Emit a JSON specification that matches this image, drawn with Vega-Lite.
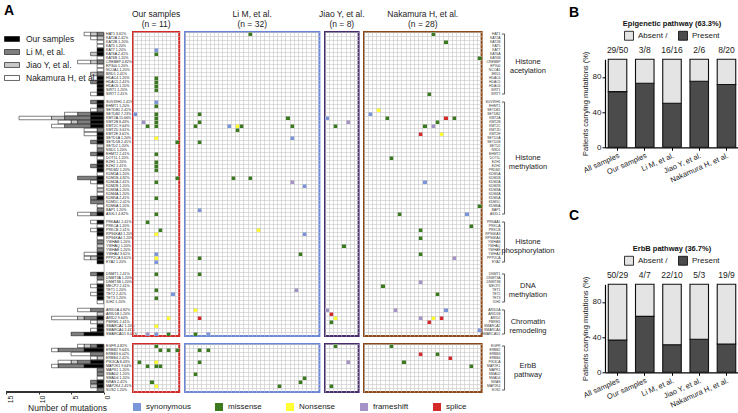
{
"$schema":"https://vega.github.io/schema/vega-lite/v6.json",
"background":"white",
"padding":{"left":4,"top":3,"right":0,"bottom":0},
"config":{"font":"Liberation Sans","view":{"stroke":null},"title":{"fontSize":8.5,"fontWeight":"normal","lineHeight":10,"offset":4,"color":"#222"},"legend":{"layout":{"top":{"anchor":"middle"}}}},
"datasets":{
"genes":[
{"g":"HAT1","k":"HAT1 3.61%","b":"E","s1":0,"s2":1,"s3":1,"s4":1},
{"g":"KAT2A","k":"KAT2A 2.41%","b":"E","s1":0,"s2":0,"s3":1,"s4":1},
{"g":"KAT2B","k":"KAT2B 1.20%","b":"E","s1":0,"s2":0,"s3":0,"s4":1},
{"g":"KAT5","k":"KAT5 1.20%","b":"E","s1":0,"s2":0,"s3":0,"s4":1},
{"g":"KAT7","k":"KAT7 1.20%","b":"E","s1":1,"s2":0,"s3":0,"s4":0},
{"g":"KAT6A","k":"KAT6A 2.41%","b":"E","s1":1,"s2":0,"s3":1,"s4":0},
{"g":"KAT6B","k":"KAT6B 1.20%","b":"E","s1":0,"s2":0,"s3":0,"s4":1},
{"g":"CREBBP","k":"CREBBP 4.82%","b":"E","s1":0,"s2":1,"s3":1,"s4":2},
{"g":"EP300","k":"EP300 1.20%","b":"E","s1":0,"s2":0,"s3":0,"s4":1},
{"g":"NCOA1","k":"NCOA1 1.20%","b":"E","s1":0,"s2":0,"s3":0,"s4":1},
{"g":"BRD1","k":"BRD1 2.41%","b":"E","s1":0,"s2":1,"s3":1,"s4":0},
{"g":"HDAC4","k":"HDAC4 1.20%","b":"E","s1":1,"s2":0,"s3":0,"s4":0},
{"g":"HDAC5","k":"HDAC5 2.41%","b":"E","s1":1,"s2":1,"s3":0,"s4":0},
{"g":"HDAC6","k":"HDAC6 1.20%","b":"E","s1":1,"s2":0,"s3":0,"s4":0},
{"g":"SIRT1","k":"SIRT1 1.20%","b":"E","s1":1,"s2":0,"s3":0,"s4":0},
{"g":"SIRT7","k":"SIRT7 2.41%","b":"E","s1":1,"s2":0,"s3":0,"s4":1},
{"g":"SUV39H1","k":"SUV39H1 2.41%","b":"E","s1":1,"s2":1,"s3":0,"s4":0},
{"g":"EHMT1","k":"EHMT1 1.20%","b":"E","s1":1,"s2":0,"s3":0,"s4":0},
{"g":"SETDB1","k":"SETDB1 2.41%","b":"E","s1":0,"s2":1,"s3":0,"s4":1},
{"g":"SETDB2","k":"SETDB2 7.23%","b":"E","s1":2,"s2":2,"s3":0,"s4":2},
{"g":"KMT2A","k":"KMT2A 15.66%","b":"E","s1":2,"s2":4,"s3":2,"s4":5},
{"g":"KMT2B","k":"KMT2B 8.43%","b":"E","s1":2,"s2":2,"s3":1,"s4":2},
{"g":"KMT2C","k":"KMT2C 9.64%","b":"E","s1":2,"s2":4,"s3":0,"s4":2},
{"g":"KMT2D","k":"KMT2D 3.61%","b":"E","s1":0,"s2":1,"s3":0,"s4":2},
{"g":"KMT2E","k":"KMT2E 3.61%","b":"E","s1":1,"s2":0,"s3":0,"s4":2},
{"g":"SETD1A","k":"SETD1A 1.20%","b":"E","s1":1,"s2":0,"s3":0,"s4":0},
{"g":"SETD1B","k":"SETD1B 2.41%","b":"E","s1":1,"s2":1,"s3":0,"s4":0},
{"g":"SETD2","k":"SETD2 1.20%","b":"E","s1":0,"s2":0,"s3":1,"s4":0},
{"g":"NSD1","k":"NSD1 1.20%","b":"E","s1":0,"s2":1,"s3":0,"s4":0},
{"g":"EHMT2","k":"EHMT2 2.41%","b":"E","s1":1,"s2":1,"s3":0,"s4":0},
{"g":"DOT1L","k":"DOT1L 1.20%","b":"E","s1":0,"s2":0,"s3":0,"s4":1},
{"g":"EZH1","k":"EZH1 1.20%","b":"E","s1":1,"s2":0,"s3":0,"s4":0},
{"g":"EZH2","k":"EZH2 2.41%","b":"E","s1":1,"s2":1,"s3":0,"s4":0},
{"g":"PRDM2","k":"PRDM2 1.20%","b":"E","s1":1,"s2":0,"s3":0,"s4":0},
{"g":"KDM1A","k":"KDM1A 1.20%","b":"E","s1":0,"s2":0,"s3":0,"s4":1},
{"g":"KDM1B","k":"KDM1B 4.82%","b":"E","s1":1,"s2":3,"s3":0,"s4":0},
{"g":"KDM2A","k":"KDM2A 2.41%","b":"E","s1":1,"s2":0,"s3":0,"s4":1},
{"g":"KDM2B","k":"KDM2B 1.20%","b":"E","s1":0,"s2":0,"s3":0,"s4":1},
{"g":"KDM3A","k":"KDM3A 1.20%","b":"E","s1":0,"s2":0,"s3":1,"s4":0},
{"g":"KDM4A","k":"KDM4A 1.20%","b":"E","s1":0,"s2":0,"s3":0,"s4":1},
{"g":"KDM5A","k":"KDM5A 2.41%","b":"E","s1":1,"s2":1,"s3":0,"s4":0},
{"g":"KDM5C","k":"KDM5C 2.41%","b":"E","s1":0,"s2":2,"s3":0,"s4":0},
{"g":"KDM6A","k":"KDM6A 1.20%","b":"E","s1":0,"s2":0,"s3":0,"s4":1},
{"g":"BAP1","k":"BAP1 1.20%","b":"E","s1":0,"s2":1,"s3":0,"s4":0},
{"g":"ASXL1","k":"ASXL1 4.82%","b":"E","s1":1,"s2":1,"s3":0,"s4":2},
{"g":"PRKAA1","k":"PRKAA1 2.41%","b":"E","s1":1,"s2":0,"s3":0,"s4":1},
{"g":"PRKCA","k":"PRKCA 1.20%","b":"E","s1":0,"s2":0,"s3":0,"s4":1},
{"g":"PRKCB","k":"PRKCB 2.41%","b":"E","s1":1,"s2":0,"s3":0,"s4":1},
{"g":"RPS6KA3","k":"RPS6KA3 1.20%","b":"E","s1":1,"s2":0,"s3":0,"s4":0},
{"g":"RPS6KA4","k":"RPS6KA4 1.20%","b":"E","s1":0,"s2":0,"s3":0,"s4":1},
{"g":"YWHAB","k":"YWHAB 1.20%","b":"E","s1":0,"s2":1,"s3":0,"s4":0},
{"g":"YWHAQ","k":"YWHAQ 1.20%","b":"E","s1":0,"s2":0,"s3":1,"s4":0},
{"g":"YWHAE","k":"YWHAE 1.20%","b":"E","s1":0,"s2":1,"s3":0,"s4":0},
{"g":"YWHAZ","k":"YWHAZ 3.61%","b":"E","s1":1,"s2":0,"s3":0,"s4":2},
{"g":"PPP2CA","k":"PPP2CA 3.61%","b":"E","s1":1,"s2":0,"s3":1,"s4":1},
{"g":"EYA2","k":"EYA2 1.20%","b":"E","s1":1,"s2":0,"s3":0,"s4":0},
{"g":"DNMT1","k":"DNMT1 2.41%","b":"E","s1":1,"s2":1,"s3":0,"s4":0},
{"g":"DNMT3A","k":"DNMT3A 1.20%","b":"E","s1":0,"s2":1,"s3":0,"s4":0},
{"g":"DNMT3B","k":"DNMT3B 1.20%","b":"E","s1":0,"s2":0,"s3":0,"s4":1},
{"g":"MECP2","k":"MECP2 2.41%","b":"E","s1":1,"s2":0,"s3":0,"s4":1},
{"g":"TET1","k":"TET1 1.20%","b":"E","s1":1,"s2":0,"s3":0,"s4":0},
{"g":"TET2","k":"TET2 2.41%","b":"E","s1":1,"s2":0,"s3":0,"s4":1},
{"g":"TET3","k":"TET3 1.20%","b":"E","s1":1,"s2":0,"s3":0,"s4":0},
{"g":"IDH2","k":"IDH2 1.20%","b":"E","s1":0,"s2":0,"s3":0,"s4":1},
{"g":"ARID1A","k":"ARID1A 4.82%","b":"E","s1":0,"s2":2,"s3":0,"s4":2},
{"g":"ARID1B","k":"ARID1B 1.20%","b":"E","s1":0,"s2":0,"s3":1,"s4":0},
{"g":"ARID2","k":"ARID2 9.64%","b":"E","s1":1,"s2":2,"s3":1,"s4":4},
{"g":"PBRM1","k":"PBRM1 2.41%","b":"E","s1":0,"s2":0,"s3":1,"s4":1},
{"g":"SMARCA2","k":"SMARCA2 1.20%","b":"E","s1":1,"s2":0,"s3":0,"s4":0},
{"g":"SMARCA4","k":"SMARCA4 2.41%","b":"E","s1":1,"s2":0,"s3":0,"s4":1},
{"g":"SMARCAD1","k":"SMARCAD1 6.02%","b":"E","s1":3,"s2":2,"s3":0,"s4":0},
{"g":"EGFR","k":"EGFR 4.82%","b":"B","s1":1,"s2":1,"s3":1,"s4":1},
{"g":"ERBB2","k":"ERBB2 9.64%","b":"B","s1":3,"s2":4,"s3":0,"s4":1},
{"g":"ERBB3","k":"ERBB3 6.02%","b":"B","s1":0,"s2":2,"s3":0,"s4":3},
{"g":"ERBB4","k":"ERBB4 2.41%","b":"B","s1":0,"s2":0,"s3":1,"s4":1},
{"g":"PIK3CA","k":"PIK3CA 8.43%","b":"B","s1":2,"s2":2,"s3":1,"s4":2},
{"g":"MAP2K1","k":"MAP2K1 9.64%","b":"B","s1":3,"s2":4,"s3":0,"s4":1},
{"g":"MAPK1","k":"MAPK1 1.20%","b":"B","s1":0,"s2":1,"s3":0,"s4":0},
{"g":"SMAD2","k":"SMAD2 1.20%","b":"B","s1":0,"s2":1,"s3":0,"s4":0},
{"g":"SMAD4","k":"SMAD4 1.20%","b":"B","s1":0,"s2":0,"s3":0,"s4":1},
{"g":"NRAS","k":"NRAS 2.41%","b":"B","s1":1,"s2":1,"s3":0,"s4":0},
{"g":"MAP2K4","k":"MAP2K4 2.41%","b":"B","s1":1,"s2":0,"s3":1,"s4":0},
{"g":"SOS2","k":"SOS2 1.20%","b":"B","s1":0,"s2":1,"s3":0,"s4":0}
],
"muts":[
{"s":"o","b":"E","c":5,"g":"KAT7","t":"synonymous"},
{"s":"o","b":"E","c":5,"g":"KAT6A","t":"missense"},
{"s":"o","b":"E","c":5,"g":"HDAC4","t":"missense"},
{"s":"o","b":"E","c":5,"g":"HDAC5","t":"missense"},
{"s":"o","b":"E","c":5,"g":"HDAC6","t":"missense"},
{"s":"o","b":"E","c":5,"g":"SIRT1","t":"missense"},
{"s":"o","b":"E","c":5,"g":"SUV39H1","t":"synonymous"},
{"s":"o","b":"E","c":5,"g":"EHMT1","t":"missense"},
{"s":"o","b":"E","c":0,"g":"SETDB2","t":"synonymous"},
{"s":"o","b":"E","c":5,"g":"SETDB2","t":"missense"},
{"s":"o","b":"E","c":5,"g":"KMT2A","t":"missense"},
{"s":"o","b":"E","c":5,"g":"KMT2B","t":"missense"},
{"s":"o","b":"E","c":2,"g":"KMT2B","t":"frameshift"},
{"s":"o","b":"E","c":5,"g":"KMT2C","t":"missense"},
{"s":"o","b":"E","c":3,"g":"KMT2C","t":"missense"},
{"s":"o","b":"E","c":5,"g":"SETD1A","t":"Nonsense"},
{"s":"o","b":"E","c":10,"g":"SETD1B","t":"missense"},
{"s":"o","b":"E","c":5,"g":"EHMT2","t":"missense"},
{"s":"o","b":"E","c":5,"g":"EZH1","t":"missense"},
{"s":"o","b":"E","c":5,"g":"EZH2","t":"missense"},
{"s":"o","b":"E","c":5,"g":"PRDM2","t":"missense"},
{"s":"o","b":"E","c":10,"g":"KDM1B","t":"missense"},
{"s":"o","b":"E","c":5,"g":"KDM2A","t":"missense"},
{"s":"o","b":"E","c":5,"g":"KDM5A","t":"missense"},
{"s":"o","b":"E","c":5,"g":"ASXL1","t":"missense"},
{"s":"o","b":"E","c":3,"g":"PRKAA1","t":"missense"},
{"s":"o","b":"E","c":6,"g":"PRKCB","t":"missense"},
{"s":"o","b":"E","c":5,"g":"RPS6KA3","t":"Nonsense"},
{"s":"o","b":"E","c":5,"g":"YWHAZ","t":"synonymous"},
{"s":"o","b":"E","c":5,"g":"PPP2CA","t":"Nonsense"},
{"s":"o","b":"E","c":5,"g":"EYA2","t":"synonymous"},
{"s":"o","b":"E","c":5,"g":"DNMT1","t":"missense"},
{"s":"o","b":"E","c":5,"g":"TET1","t":"missense"},
{"s":"o","b":"E","c":9,"g":"TET2","t":"synonymous"},
{"s":"o","b":"E","c":5,"g":"TET3","t":"missense"},
{"s":"o","b":"E","c":8,"g":"ARID2","t":"Nonsense"},
{"s":"o","b":"E","c":5,"g":"SMARCA2","t":"Nonsense"},
{"s":"o","b":"E","c":3,"g":"SMARCAD1","t":"frameshift"},
{"s":"o","b":"E","c":5,"g":"SMARCAD1","t":"synonymous"},
{"s":"o","b":"E","c":8,"g":"SMARCAD1","t":"missense"},
{"s":"o","b":"B","c":5,"g":"EGFR","t":"missense"},
{"s":"o","b":"B","c":6,"g":"ERBB2","t":"missense"},
{"s":"o","b":"B","c":8,"g":"ERBB2","t":"missense"},
{"s":"o","b":"B","c":10,"g":"ERBB2","t":"missense"},
{"s":"o","b":"B","c":1,"g":"PIK3CA","t":"missense"},
{"s":"o","b":"B","c":5,"g":"PIK3CA","t":"Nonsense"},
{"s":"o","b":"B","c":3,"g":"MAP2K1","t":"missense"},
{"s":"o","b":"B","c":5,"g":"MAP2K1","t":"missense"},
{"s":"o","b":"B","c":6,"g":"MAP2K1","t":"missense"},
{"s":"o","b":"B","c":4,"g":"NRAS","t":"missense"},
{"s":"o","b":"B","c":5,"g":"MAP2K4","t":"Nonsense"},
{"s":"l","b":"E","c":15,"g":"HAT1","t":"missense"},
{"s":"l","b":"E","c":3,"g":"SETDB2","t":"missense"},
{"s":"l","b":"E","c":24,"g":"KMT2A","t":"missense"},
{"s":"l","b":"E","c":3,"g":"KMT2B","t":"missense"},
{"s":"l","b":"E","c":2,"g":"KMT2C","t":"missense"},
{"s":"l","b":"E","c":10,"g":"KMT2C","t":"synonymous"},
{"s":"l","b":"E","c":12,"g":"KMT2C","t":"Nonsense"},
{"s":"l","b":"E","c":13,"g":"KMT2C","t":"missense"},
{"s":"l","b":"E","c":25,"g":"KMT2C","t":"missense"},
{"s":"l","b":"E","c":12,"g":"KMT2D","t":"missense"},
{"s":"l","b":"E","c":25,"g":"SETD1A","t":"synonymous"},
{"s":"l","b":"E","c":3,"g":"SETD1B","t":"missense"},
{"s":"l","b":"E","c":11,"g":"KDM1B","t":"missense"},
{"s":"l","b":"E","c":15,"g":"KDM1B","t":"missense"},
{"s":"l","b":"E","c":25,"g":"KDM2A","t":"frameshift"},
{"s":"l","b":"E","c":28,"g":"KDM2B","t":"synonymous"},
{"s":"l","b":"E","c":3,"g":"BAP1","t":"synonymous"},
{"s":"l","b":"E","c":17,"g":"PRKCB","t":"Nonsense"},
{"s":"l","b":"E","c":28,"g":"RPS6KA3","t":"synonymous"},
{"s":"l","b":"E","c":27,"g":"YWHAZ","t":"missense"},
{"s":"l","b":"E","c":3,"g":"PPP2CA","t":"missense"},
{"s":"l","b":"E","c":3,"g":"DNMT1","t":"missense"},
{"s":"l","b":"E","c":26,"g":"TET1","t":"frameshift"},
{"s":"l","b":"E","c":2,"g":"ARID1A","t":"Nonsense"},
{"s":"l","b":"E","c":3,"g":"ARID2","t":"splice"},
{"s":"l","b":"E","c":2,"g":"SMARCAD1","t":"missense"},
{"s":"l","b":"E","c":5,"g":"SMARCAD1","t":"synonymous"},
{"s":"l","b":"B","c":3,"g":"ERBB2","t":"missense"},
{"s":"l","b":"B","c":5,"g":"ERBB2","t":"missense"},
{"s":"l","b":"B","c":3,"g":"PIK3CA","t":"missense"},
{"s":"l","b":"B","c":2,"g":"SMAD2","t":"missense"},
{"s":"l","b":"B","c":28,"g":"SMAD4","t":"missense"},
{"s":"l","b":"B","c":27,"g":"NRAS","t":"missense"},
{"s":"l","b":"B","c":22,"g":"MAP2K4","t":"missense"},
{"s":"j","b":"E","c":0,"g":"KMT2A","t":"synonymous"},
{"s":"j","b":"E","c":5,"g":"KMT2B","t":"frameshift"},
{"s":"j","b":"E","c":2,"g":"KMT2C","t":"missense"},
{"s":"j","b":"E","c":4,"g":"YWHAQ","t":"missense"},
{"s":"j","b":"E","c":0,"g":"ARID1A","t":"frameshift"},
{"s":"j","b":"E","c":1,"g":"ARID1B","t":"splice"},
{"s":"j","b":"E","c":2,"g":"ARID2","t":"Nonsense"},
{"s":"j","b":"E","c":1,"g":"PBRM1","t":"missense"},
{"s":"j","b":"B","c":2,"g":"EGFR","t":"missense"},
{"s":"j","b":"B","c":5,"g":"PIK3CA","t":"frameshift"},
{"s":"j","b":"B","c":1,"g":"MAP2K4","t":"missense"},
{"s":"n","b":"E","c":16,"g":"HAT1","t":"missense"},
{"s":"n","b":"E","c":19,"g":"KAT2B","t":"missense"},
{"s":"n","b":"E","c":27,"g":"KAT6B","t":"missense"},
{"s":"n","b":"E","c":15,"g":"SIRT7","t":"missense"},
{"s":"n","b":"E","c":3,"g":"SETDB1","t":"Nonsense"},
{"s":"n","b":"E","c":1,"g":"SETDB2","t":"synonymous"},
{"s":"n","b":"E","c":5,"g":"KMT2A","t":"missense"},
{"s":"n","b":"E","c":19,"g":"KMT2A","t":"splice"},
{"s":"n","b":"E","c":21,"g":"KMT2A","t":"missense"},
{"s":"n","b":"E","c":17,"g":"KMT2B","t":"missense"},
{"s":"n","b":"E","c":14,"g":"KMT2C","t":"missense"},
{"s":"n","b":"E","c":16,"g":"KMT2C","t":"frameshift"},
{"s":"n","b":"E","c":13,"g":"KMT2E","t":"splice"},
{"s":"n","b":"E","c":18,"g":"KMT2E","t":"Nonsense"},
{"s":"n","b":"E","c":6,"g":"DOT1L","t":"missense"},
{"s":"n","b":"E","c":14,"g":"KDM2A","t":"synonymous"},
{"s":"n","b":"E","c":27,"g":"KDM6A","t":"missense"},
{"s":"n","b":"E","c":8,"g":"ASXL1","t":"missense"},
{"s":"n","b":"E","c":24,"g":"ASXL1","t":"synonymous"},
{"s":"n","b":"E","c":25,"g":"PRKCA","t":"missense"},
{"s":"n","b":"E","c":13,"g":"PRKCB","t":"missense"},
{"s":"n","b":"E","c":13,"g":"RPS6KA4","t":"missense"},
{"s":"n","b":"E","c":13,"g":"YWHAZ","t":"missense"},
{"s":"n","b":"E","c":21,"g":"PPP2CA","t":"frameshift"},
{"s":"n","b":"E","c":13,"g":"DNMT3B","t":"frameshift"},
{"s":"n","b":"E","c":4,"g":"MECP2","t":"missense"},
{"s":"n","b":"E","c":17,"g":"TET2","t":"missense"},
{"s":"n","b":"E","c":7,"g":"ARID1A","t":"frameshift"},
{"s":"n","b":"E","c":19,"g":"ARID1A","t":"synonymous"},
{"s":"n","b":"E","c":13,"g":"ARID2","t":"frameshift"},
{"s":"n","b":"E","c":16,"g":"ARID2","t":"Nonsense"},
{"s":"n","b":"E","c":18,"g":"ARID2","t":"splice"},
{"s":"n","b":"E","c":15,"g":"PBRM1","t":"splice"},
{"s":"n","b":"E","c":27,"g":"SMARCA4","t":"synonymous"},
{"s":"n","b":"B","c":6,"g":"EGFR","t":"missense"},
{"s":"n","b":"B","c":13,"g":"ERBB3","t":"splice"},
{"s":"n","b":"B","c":17,"g":"ERBB3","t":"missense"},
{"s":"n","b":"B","c":20,"g":"ERBB4","t":"splice"},
{"s":"n","b":"B","c":9,"g":"PIK3CA","t":"missense"},
{"s":"n","b":"B","c":25,"g":"MAP2K1","t":"missense"}
],
"groups":[
{"b":"E","first":"HAT1 3.61%","last":"SIRT7 2.41%","mid":"CREBBP 4.82%","label":"Histone\nacetylation"},
{"b":"E","first":"SUV39H1 2.41%","last":"ASXL1 4.82%","mid":"DOT1L 1.20%","label":"Histone\nmethylation"},
{"b":"E","first":"PRKAA1 2.41%","last":"EYA2 1.20%","mid":"YWHAB 1.20%","label":"Histone\nphosphorylation"},
{"b":"E","first":"DNMT1 2.41%","last":"IDH2 1.20%","mid":"MECP2 2.41%","label":"DNA\nmethylation"},
{"b":"E","first":"ARID1A 4.82%","last":"SMARCAD1 6.02%","mid":"PBRM1 2.41%","label":"Chromatin\nremodeling"},
{"b":"B","first":"EGFR 4.82%","last":"SOS2 1.20%","mid":"MAP2K1 9.64%","label":"ErbB\npathway"}
],
"path":[
{"p":"B","group":"All samples","status":"Present","pct":63.3,"frac":"29/50"},
{"p":"B","group":"All samples","status":"Absent","pct":36.7,"frac":"29/50"},
{"p":"B","group":"Our samples","status":"Present","pct":72.7,"frac":"3/8"},
{"p":"B","group":"Our samples","status":"Absent","pct":27.3,"frac":"3/8"},
{"p":"B","group":"Li M, et al.","status":"Present","pct":50,"frac":"16/16"},
{"p":"B","group":"Li M, et al.","status":"Absent","pct":50,"frac":"16/16"},
{"p":"B","group":"Jiao Y, et al.","status":"Present","pct":75,"frac":"2/6"},
{"p":"B","group":"Jiao Y, et al.","status":"Absent","pct":25,"frac":"2/6"},
{"p":"B","group":"Nakamura H, et al.","status":"Present","pct":71.4,"frac":"8/20"},
{"p":"B","group":"Nakamura H, et al.","status":"Absent","pct":28.6,"frac":"8/20"},
{"p":"C","group":"All samples","status":"Present","pct":36.7,"frac":"50/29"},
{"p":"C","group":"All samples","status":"Absent","pct":63.3,"frac":"50/29"},
{"p":"C","group":"Our samples","status":"Present","pct":63.6,"frac":"4/7"},
{"p":"C","group":"Our samples","status":"Absent","pct":36.4,"frac":"4/7"},
{"p":"C","group":"Li M, et al.","status":"Present","pct":31.3,"frac":"22/10"},
{"p":"C","group":"Li M, et al.","status":"Absent","pct":68.7,"frac":"22/10"},
{"p":"C","group":"Jiao Y, et al.","status":"Present","pct":37.5,"frac":"5/3"},
{"p":"C","group":"Jiao Y, et al.","status":"Absent","pct":62.5,"frac":"5/3"},
{"p":"C","group":"Nakamura H, et al.","status":"Present","pct":32.1,"frac":"19/9"},
{"p":"C","group":"Nakamura H, et al.","status":"Absent","pct":67.9,"frac":"19/9"}
]
},
"spacing":14,
"resolve":{"scale":{"color":"independent","fill":"independent","x":"independent","y":"independent"},"legend":{"color":"independent","fill":"independent"}},
"hconcat":[
{
"title":{"text":"A","anchor":"start","fontSize":14,"fontWeight":"bold","color":"#000","offset":-9},
"columns":6,
"align":"each",
"bounds":"flush",
"spacing":{"row":8,"column":5},
"resolve":{"scale":{"x":"independent","y":"independent","color":"shared","fill":"shared"},"axis":{"x":"independent","y":"independent"},"legend":{"color":"shared","fill":"shared"}},
"concat":[
{"width":122,"height":{"step":4},"data":{"name":"genes"},
"transform":[{"filter":"datum.b == 'E'"},{"fold":["s1","s2","s3","s4"],"as":["study","v"]},{"filter":"datum.v > 0"}],
"mark":{"type":"bar","stroke":"#000","strokeWidth":0.5},
"encoding":{
"y":{"field":"k","type":"ordinal","scale":{"domain":["HAT1 3.61%","KAT2A 2.41%","KAT2B 1.20%","KAT5 1.20%","KAT7 1.20%","KAT6A 2.41%","KAT6B 1.20%","CREBBP 4.82%","EP300 1.20%","NCOA1 1.20%","BRD1 2.41%","HDAC4 1.20%","HDAC5 2.41%","HDAC6 1.20%","SIRT1 1.20%","SIRT7 2.41%","gap1","SUV39H1 2.41%","EHMT1 1.20%","SETDB1 2.41%","SETDB2 7.23%","KMT2A 15.66%","KMT2B 8.43%","KMT2C 9.64%","KMT2D 3.61%","KMT2E 3.61%","SETD1A 1.20%","SETD1B 2.41%","SETD2 1.20%","NSD1 1.20%","EHMT2 2.41%","DOT1L 1.20%","EZH1 1.20%","EZH2 2.41%","PRDM2 1.20%","KDM1A 1.20%","KDM1B 4.82%","KDM2A 2.41%","KDM2B 1.20%","KDM3A 1.20%","KDM4A 1.20%","KDM5A 2.41%","KDM5C 2.41%","KDM6A 1.20%","BAP1 1.20%","ASXL1 4.82%","gap2","PRKAA1 2.41%","PRKCA 1.20%","PRKCB 2.41%","RPS6KA3 1.20%","RPS6KA4 1.20%","YWHAB 1.20%","YWHAQ 1.20%","YWHAE 1.20%","YWHAZ 3.61%","PPP2CA 3.61%","EYA2 1.20%","gap3","gap4","DNMT1 2.41%","DNMT3A 1.20%","DNMT3B 1.20%","MECP2 2.41%","TET1 1.20%","TET2 2.41%","TET3 1.20%","IDH2 1.20%","gap5","ARID1A 4.82%","ARID1B 1.20%","ARID2 9.64%","PBRM1 2.41%","SMARCA2 1.20%","SMARCA4 2.41%","SMARCAD1 6.02%"],"paddingInner":0.12,"paddingOuter":0.06},
"axis":{"orient":"right","offset":-24.4,"title":null,"ticks":false,"domain":true,"domainColor":"#777","domainWidth":0.6,"labelExpr":"indexof(datum.label,'%') < 0 ? '' : datum.label","labelFontSize":3.6,"labelPadding":2,"labelColor":"#222","labelLimit":60}},
"x":{"field":"v","type":"quantitative","stack":"zero","scale":{"domain":[-3.75,15],"reverse":true},"axis":null},
"fill":{"field":"study","type":"nominal","scale":{"domain":["s1","s2","s3","s4"],"range":["#000000","#7f7f7f","#c8c8c8","#ffffff"]},
"legend":{"orient":"none","legendX":-2,"legendY":-1,"title":null,"labelFontSize":8.5,"labelColor":"#222","symbolType":"M-1,-0.33L1,-0.33L1,0.33L-1,0.33Z","symbolSize":225,"symbolStrokeColor":"#000","symbolStrokeWidth":0.6,"rowPadding":-3.5,"labelOffset":6,"labelExpr":"datum.label == 's1' ? 'Our samples' : datum.label == 's2' ? 'Li M, et al.' : datum.label == 's3' ? 'Jiao Y, et al.' : 'Nakamura H, et al.'"}},
"order":{"field":"study","type":"nominal"}}},
{"title":{"text":["Our samples","(n = 11)"]},"width":{"step":4.2},"height":{"step":4},"view":{"stroke":"#d42a2a","strokeWidth":2},"data":{"name":"muts"},
"transform":[{"filter":"datum.s == 'o' && datum.b == 'E'"},{"lookup":"g","from":{"data":{"name":"genes"},"key":"g","fields":["k"]}}],
"mark":{"type":"rect"},
"encoding":{
"x":{"field":"c","type":"ordinal","scale":{"domain":[0,1,2,3,4,5,6,7,8,9,10],"paddingInner":0,"paddingOuter":0},"axis":{"grid":true,"bandPosition":0,"labels":false,"ticks":false,"domain":false,"title":null,"gridColor":"#c6c6c6","gridWidth":0.6,"minExtent":0,"maxExtent":0}},
"y":{"field":"k","type":"ordinal","scale":{"domain":["HAT1 3.61%","KAT2A 2.41%","KAT2B 1.20%","KAT5 1.20%","KAT7 1.20%","KAT6A 2.41%","KAT6B 1.20%","CREBBP 4.82%","EP300 1.20%","NCOA1 1.20%","BRD1 2.41%","HDAC4 1.20%","HDAC5 2.41%","HDAC6 1.20%","SIRT1 1.20%","SIRT7 2.41%","gap1","SUV39H1 2.41%","EHMT1 1.20%","SETDB1 2.41%","SETDB2 7.23%","KMT2A 15.66%","KMT2B 8.43%","KMT2C 9.64%","KMT2D 3.61%","KMT2E 3.61%","SETD1A 1.20%","SETD1B 2.41%","SETD2 1.20%","NSD1 1.20%","EHMT2 2.41%","DOT1L 1.20%","EZH1 1.20%","EZH2 2.41%","PRDM2 1.20%","KDM1A 1.20%","KDM1B 4.82%","KDM2A 2.41%","KDM2B 1.20%","KDM3A 1.20%","KDM4A 1.20%","KDM5A 2.41%","KDM5C 2.41%","KDM6A 1.20%","BAP1 1.20%","ASXL1 4.82%","gap2","PRKAA1 2.41%","PRKCA 1.20%","PRKCB 2.41%","RPS6KA3 1.20%","RPS6KA4 1.20%","YWHAB 1.20%","YWHAQ 1.20%","YWHAE 1.20%","YWHAZ 3.61%","PPP2CA 3.61%","EYA2 1.20%","gap3","gap4","DNMT1 2.41%","DNMT3A 1.20%","DNMT3B 1.20%","MECP2 2.41%","TET1 1.20%","TET2 2.41%","TET3 1.20%","IDH2 1.20%","gap5","ARID1A 4.82%","ARID1B 1.20%","ARID2 9.64%","PBRM1 2.41%","SMARCA2 1.20%","SMARCA4 2.41%","SMARCAD1 6.02%"],"paddingInner":0,"paddingOuter":0},"axis":{"grid":true,"bandPosition":0,"labels":false,"ticks":false,"domain":false,"title":null,"gridColor":"#c6c6c6","gridWidth":0.6,"minExtent":0,"maxExtent":0}},
"color":{"field":"t","type":"nominal","scale":{"domain":["synonymous","missense","Nonsense","frameshift","splice"],"range":["#7b96db","#3b7a1f","#ffff33","#a393c6","#d42a2a"]}}}},
{"title":{"text":["Li M, et al.","(n = 32)"]},"width":{"step":4.2},"height":{"step":4},"view":{"stroke":"#6b86d6","strokeWidth":2},"data":{"name":"muts"},
"transform":[{"filter":"datum.s == 'l' && datum.b == 'E'"},{"lookup":"g","from":{"data":{"name":"genes"},"key":"g","fields":["k"]}}],
"mark":{"type":"rect"},
"encoding":{
"x":{"field":"c","type":"ordinal","scale":{"domain":[0,1,2,3,4,5,6,7,8,9,10,11,12,13,14,15,16,17,18,19,20,21,22,23,24,25,26,27,28,29,30,31],"paddingInner":0,"paddingOuter":0},"axis":{"grid":true,"bandPosition":0,"labels":false,"ticks":false,"domain":false,"title":null,"gridColor":"#c6c6c6","gridWidth":0.6,"minExtent":0,"maxExtent":0}},
"y":{"field":"k","type":"ordinal","scale":{"domain":["HAT1 3.61%","KAT2A 2.41%","KAT2B 1.20%","KAT5 1.20%","KAT7 1.20%","KAT6A 2.41%","KAT6B 1.20%","CREBBP 4.82%","EP300 1.20%","NCOA1 1.20%","BRD1 2.41%","HDAC4 1.20%","HDAC5 2.41%","HDAC6 1.20%","SIRT1 1.20%","SIRT7 2.41%","gap1","SUV39H1 2.41%","EHMT1 1.20%","SETDB1 2.41%","SETDB2 7.23%","KMT2A 15.66%","KMT2B 8.43%","KMT2C 9.64%","KMT2D 3.61%","KMT2E 3.61%","SETD1A 1.20%","SETD1B 2.41%","SETD2 1.20%","NSD1 1.20%","EHMT2 2.41%","DOT1L 1.20%","EZH1 1.20%","EZH2 2.41%","PRDM2 1.20%","KDM1A 1.20%","KDM1B 4.82%","KDM2A 2.41%","KDM2B 1.20%","KDM3A 1.20%","KDM4A 1.20%","KDM5A 2.41%","KDM5C 2.41%","KDM6A 1.20%","BAP1 1.20%","ASXL1 4.82%","gap2","PRKAA1 2.41%","PRKCA 1.20%","PRKCB 2.41%","RPS6KA3 1.20%","RPS6KA4 1.20%","YWHAB 1.20%","YWHAQ 1.20%","YWHAE 1.20%","YWHAZ 3.61%","PPP2CA 3.61%","EYA2 1.20%","gap3","gap4","DNMT1 2.41%","DNMT3A 1.20%","DNMT3B 1.20%","MECP2 2.41%","TET1 1.20%","TET2 2.41%","TET3 1.20%","IDH2 1.20%","gap5","ARID1A 4.82%","ARID1B 1.20%","ARID2 9.64%","PBRM1 2.41%","SMARCA2 1.20%","SMARCA4 2.41%","SMARCAD1 6.02%"],"paddingInner":0,"paddingOuter":0},"axis":{"grid":true,"bandPosition":0,"labels":false,"ticks":false,"domain":false,"title":null,"gridColor":"#c6c6c6","gridWidth":0.6,"minExtent":0,"maxExtent":0}},
"color":{"field":"t","type":"nominal","scale":{"domain":["synonymous","missense","Nonsense","frameshift","splice"],"range":["#7b96db","#3b7a1f","#ffff33","#a393c6","#d42a2a"]}}}},
{"title":{"text":["Jiao Y, et al.","(n = 8)"]},"width":{"step":4.2},"height":{"step":4},"view":{"stroke":"#4a2f6e","strokeWidth":2},"data":{"name":"muts"},
"transform":[{"filter":"datum.s == 'j' && datum.b == 'E'"},{"lookup":"g","from":{"data":{"name":"genes"},"key":"g","fields":["k"]}}],
"mark":{"type":"rect"},
"encoding":{
"x":{"field":"c","type":"ordinal","scale":{"domain":[0,1,2,3,4,5,6,7],"paddingInner":0,"paddingOuter":0},"axis":{"grid":true,"bandPosition":0,"labels":false,"ticks":false,"domain":false,"title":null,"gridColor":"#c6c6c6","gridWidth":0.6,"minExtent":0,"maxExtent":0}},
"y":{"field":"k","type":"ordinal","scale":{"domain":["HAT1 3.61%","KAT2A 2.41%","KAT2B 1.20%","KAT5 1.20%","KAT7 1.20%","KAT6A 2.41%","KAT6B 1.20%","CREBBP 4.82%","EP300 1.20%","NCOA1 1.20%","BRD1 2.41%","HDAC4 1.20%","HDAC5 2.41%","HDAC6 1.20%","SIRT1 1.20%","SIRT7 2.41%","gap1","SUV39H1 2.41%","EHMT1 1.20%","SETDB1 2.41%","SETDB2 7.23%","KMT2A 15.66%","KMT2B 8.43%","KMT2C 9.64%","KMT2D 3.61%","KMT2E 3.61%","SETD1A 1.20%","SETD1B 2.41%","SETD2 1.20%","NSD1 1.20%","EHMT2 2.41%","DOT1L 1.20%","EZH1 1.20%","EZH2 2.41%","PRDM2 1.20%","KDM1A 1.20%","KDM1B 4.82%","KDM2A 2.41%","KDM2B 1.20%","KDM3A 1.20%","KDM4A 1.20%","KDM5A 2.41%","KDM5C 2.41%","KDM6A 1.20%","BAP1 1.20%","ASXL1 4.82%","gap2","PRKAA1 2.41%","PRKCA 1.20%","PRKCB 2.41%","RPS6KA3 1.20%","RPS6KA4 1.20%","YWHAB 1.20%","YWHAQ 1.20%","YWHAE 1.20%","YWHAZ 3.61%","PPP2CA 3.61%","EYA2 1.20%","gap3","gap4","DNMT1 2.41%","DNMT3A 1.20%","DNMT3B 1.20%","MECP2 2.41%","TET1 1.20%","TET2 2.41%","TET3 1.20%","IDH2 1.20%","gap5","ARID1A 4.82%","ARID1B 1.20%","ARID2 9.64%","PBRM1 2.41%","SMARCA2 1.20%","SMARCA4 2.41%","SMARCAD1 6.02%"],"paddingInner":0,"paddingOuter":0},"axis":{"grid":true,"bandPosition":0,"labels":false,"ticks":false,"domain":false,"title":null,"gridColor":"#c6c6c6","gridWidth":0.6,"minExtent":0,"maxExtent":0}},
"color":{"field":"t","type":"nominal","scale":{"domain":["synonymous","missense","Nonsense","frameshift","splice"],"range":["#7b96db","#3b7a1f","#ffff33","#a393c6","#d42a2a"]}}}},
{"title":{"text":["Nakamura H, et al.","(n = 28)"]},"width":{"step":4.2},"height":{"step":4},"view":{"stroke":"#8a4a1c","strokeWidth":2},"data":{"name":"muts"},
"transform":[{"filter":"datum.s == 'n' && datum.b == 'E'"},{"lookup":"g","from":{"data":{"name":"genes"},"key":"g","fields":["k"]}}],
"mark":{"type":"rect"},
"encoding":{
"x":{"field":"c","type":"ordinal","scale":{"domain":[0,1,2,3,4,5,6,7,8,9,10,11,12,13,14,15,16,17,18,19,20,21,22,23,24,25,26,27],"paddingInner":0,"paddingOuter":0},"axis":{"grid":true,"bandPosition":0,"labels":false,"ticks":false,"domain":false,"title":null,"gridColor":"#c6c6c6","gridWidth":0.6,"minExtent":0,"maxExtent":0}},
"y":{"field":"k","type":"ordinal","scale":{"domain":["HAT1 3.61%","KAT2A 2.41%","KAT2B 1.20%","KAT5 1.20%","KAT7 1.20%","KAT6A 2.41%","KAT6B 1.20%","CREBBP 4.82%","EP300 1.20%","NCOA1 1.20%","BRD1 2.41%","HDAC4 1.20%","HDAC5 2.41%","HDAC6 1.20%","SIRT1 1.20%","SIRT7 2.41%","gap1","SUV39H1 2.41%","EHMT1 1.20%","SETDB1 2.41%","SETDB2 7.23%","KMT2A 15.66%","KMT2B 8.43%","KMT2C 9.64%","KMT2D 3.61%","KMT2E 3.61%","SETD1A 1.20%","SETD1B 2.41%","SETD2 1.20%","NSD1 1.20%","EHMT2 2.41%","DOT1L 1.20%","EZH1 1.20%","EZH2 2.41%","PRDM2 1.20%","KDM1A 1.20%","KDM1B 4.82%","KDM2A 2.41%","KDM2B 1.20%","KDM3A 1.20%","KDM4A 1.20%","KDM5A 2.41%","KDM5C 2.41%","KDM6A 1.20%","BAP1 1.20%","ASXL1 4.82%","gap2","PRKAA1 2.41%","PRKCA 1.20%","PRKCB 2.41%","RPS6KA3 1.20%","RPS6KA4 1.20%","YWHAB 1.20%","YWHAQ 1.20%","YWHAE 1.20%","YWHAZ 3.61%","PPP2CA 3.61%","EYA2 1.20%","gap3","gap4","DNMT1 2.41%","DNMT3A 1.20%","DNMT3B 1.20%","MECP2 2.41%","TET1 1.20%","TET2 2.41%","TET3 1.20%","IDH2 1.20%","gap5","ARID1A 4.82%","ARID1B 1.20%","ARID2 9.64%","PBRM1 2.41%","SMARCA2 1.20%","SMARCA4 2.41%","SMARCAD1 6.02%"],"paddingInner":0,"paddingOuter":0},"axis":{"grid":true,"bandPosition":0,"labels":false,"ticks":false,"domain":false,"title":null,"gridColor":"#c6c6c6","gridWidth":0.6,"minExtent":0,"maxExtent":0}},
"color":{"field":"t","type":"nominal","scale":{"domain":["synonymous","missense","Nonsense","frameshift","splice"],"range":["#7b96db","#3b7a1f","#ffff33","#a393c6","#d42a2a"]}}}},
{"width":65,"height":{"step":4},"data":{"name":"groups"},"transform":[{"filter":"datum.b == 'E'"}],
"layer":[
{"mark":{"type":"rule","color":"#333","strokeWidth":0.8},"encoding":{"x":{"datum":0.27,"type":"quantitative","scale":{"domain":[0,1]},"axis":null},
"y":{"field":"first","type":"ordinal","scale":{"type":"band","domain":["HAT1 3.61%","KAT2A 2.41%","KAT2B 1.20%","KAT5 1.20%","KAT7 1.20%","KAT6A 2.41%","KAT6B 1.20%","CREBBP 4.82%","EP300 1.20%","NCOA1 1.20%","BRD1 2.41%","HDAC4 1.20%","HDAC5 2.41%","HDAC6 1.20%","SIRT1 1.20%","SIRT7 2.41%","gap1","SUV39H1 2.41%","EHMT1 1.20%","SETDB1 2.41%","SETDB2 7.23%","KMT2A 15.66%","KMT2B 8.43%","KMT2C 9.64%","KMT2D 3.61%","KMT2E 3.61%","SETD1A 1.20%","SETD1B 2.41%","SETD2 1.20%","NSD1 1.20%","EHMT2 2.41%","DOT1L 1.20%","EZH1 1.20%","EZH2 2.41%","PRDM2 1.20%","KDM1A 1.20%","KDM1B 4.82%","KDM2A 2.41%","KDM2B 1.20%","KDM3A 1.20%","KDM4A 1.20%","KDM5A 2.41%","KDM5C 2.41%","KDM6A 1.20%","BAP1 1.20%","ASXL1 4.82%","gap2","PRKAA1 2.41%","PRKCA 1.20%","PRKCB 2.41%","RPS6KA3 1.20%","RPS6KA4 1.20%","YWHAB 1.20%","YWHAQ 1.20%","YWHAE 1.20%","YWHAZ 3.61%","PPP2CA 3.61%","EYA2 1.20%","gap3","gap4","DNMT1 2.41%","DNMT3A 1.20%","DNMT3B 1.20%","MECP2 2.41%","TET1 1.20%","TET2 2.41%","TET3 1.20%","IDH2 1.20%","gap5","ARID1A 4.82%","ARID1B 1.20%","ARID2 9.64%","PBRM1 2.41%","SMARCA2 1.20%","SMARCA4 2.41%","SMARCAD1 6.02%"],"paddingInner":0,"paddingOuter":0},
"axis":{"orient":"left","offset":-15,"title":null,"ticks":false,"domain":false,"labelFontSize":3.4,"labelPadding":2,"labelColor":"#333","labelExpr":"indexof(datum.label,'%') < 0 ? '' : split(datum.label,' ')[0]"}},
"y2":{"field":"last"}}},
{"transform":[{"fold":["first","last"],"as":["end","key"]}],"mark":{"type":"rule","color":"#333","strokeWidth":0.8},"encoding":{"x":{"datum":0.23,"type":"quantitative","scale":{"domain":[0,1]},"axis":null},"x2":{"datum":0.27},
"y":{"field":"key","type":"ordinal","scale":{"type":"band","domain":["HAT1 3.61%","KAT2A 2.41%","KAT2B 1.20%","KAT5 1.20%","KAT7 1.20%","KAT6A 2.41%","KAT6B 1.20%","CREBBP 4.82%","EP300 1.20%","NCOA1 1.20%","BRD1 2.41%","HDAC4 1.20%","HDAC5 2.41%","HDAC6 1.20%","SIRT1 1.20%","SIRT7 2.41%","gap1","SUV39H1 2.41%","EHMT1 1.20%","SETDB1 2.41%","SETDB2 7.23%","KMT2A 15.66%","KMT2B 8.43%","KMT2C 9.64%","KMT2D 3.61%","KMT2E 3.61%","SETD1A 1.20%","SETD1B 2.41%","SETD2 1.20%","NSD1 1.20%","EHMT2 2.41%","DOT1L 1.20%","EZH1 1.20%","EZH2 2.41%","PRDM2 1.20%","KDM1A 1.20%","KDM1B 4.82%","KDM2A 2.41%","KDM2B 1.20%","KDM3A 1.20%","KDM4A 1.20%","KDM5A 2.41%","KDM5C 2.41%","KDM6A 1.20%","BAP1 1.20%","ASXL1 4.82%","gap2","PRKAA1 2.41%","PRKCA 1.20%","PRKCB 2.41%","RPS6KA3 1.20%","RPS6KA4 1.20%","YWHAB 1.20%","YWHAQ 1.20%","YWHAE 1.20%","YWHAZ 3.61%","PPP2CA 3.61%","EYA2 1.20%","gap3","gap4","DNMT1 2.41%","DNMT3A 1.20%","DNMT3B 1.20%","MECP2 2.41%","TET1 1.20%","TET2 2.41%","TET3 1.20%","IDH2 1.20%","gap5","ARID1A 4.82%","ARID1B 1.20%","ARID2 9.64%","PBRM1 2.41%","SMARCA2 1.20%","SMARCA4 2.41%","SMARCAD1 6.02%"],"paddingInner":0,"paddingOuter":0}}}},
{"mark":{"type":"text","fontSize":7.5,"lineBreak":"\n","lineHeight":9,"color":"#222","align":"center","baseline":"middle"},"encoding":{"x":{"datum":0.63,"type":"quantitative","scale":{"domain":[0,1]},"axis":null},
"y":{"field":"mid","type":"ordinal","scale":{"type":"band","domain":["HAT1 3.61%","KAT2A 2.41%","KAT2B 1.20%","KAT5 1.20%","KAT7 1.20%","KAT6A 2.41%","KAT6B 1.20%","CREBBP 4.82%","EP300 1.20%","NCOA1 1.20%","BRD1 2.41%","HDAC4 1.20%","HDAC5 2.41%","HDAC6 1.20%","SIRT1 1.20%","SIRT7 2.41%","gap1","SUV39H1 2.41%","EHMT1 1.20%","SETDB1 2.41%","SETDB2 7.23%","KMT2A 15.66%","KMT2B 8.43%","KMT2C 9.64%","KMT2D 3.61%","KMT2E 3.61%","SETD1A 1.20%","SETD1B 2.41%","SETD2 1.20%","NSD1 1.20%","EHMT2 2.41%","DOT1L 1.20%","EZH1 1.20%","EZH2 2.41%","PRDM2 1.20%","KDM1A 1.20%","KDM1B 4.82%","KDM2A 2.41%","KDM2B 1.20%","KDM3A 1.20%","KDM4A 1.20%","KDM5A 2.41%","KDM5C 2.41%","KDM6A 1.20%","BAP1 1.20%","ASXL1 4.82%","gap2","PRKAA1 2.41%","PRKCA 1.20%","PRKCB 2.41%","RPS6KA3 1.20%","RPS6KA4 1.20%","YWHAB 1.20%","YWHAQ 1.20%","YWHAE 1.20%","YWHAZ 3.61%","PPP2CA 3.61%","EYA2 1.20%","gap3","gap4","DNMT1 2.41%","DNMT3A 1.20%","DNMT3B 1.20%","MECP2 2.41%","TET1 1.20%","TET2 2.41%","TET3 1.20%","IDH2 1.20%","gap5","ARID1A 4.82%","ARID1B 1.20%","ARID2 9.64%","PBRM1 2.41%","SMARCA2 1.20%","SMARCA4 2.41%","SMARCAD1 6.02%"],"paddingInner":0,"paddingOuter":0}},
"text":{"field":"label"}}}
]},
{"width":122,"height":{"step":4},"data":{"name":"genes"},
"transform":[{"filter":"datum.b == 'B'"},{"fold":["s1","s2","s3","s4"],"as":["study","v"]},{"filter":"datum.v > 0"}],
"layer":[
{"mark":{"type":"bar","stroke":"#000","strokeWidth":0.5},
"encoding":{
"y":{"field":"k","type":"ordinal","scale":{"domain":["EGFR 4.82%","ERBB2 9.64%","ERBB3 6.02%","ERBB4 2.41%","PIK3CA 8.43%","MAP2K1 9.64%","MAPK1 1.20%","SMAD2 1.20%","SMAD4 1.20%","NRAS 2.41%","MAP2K4 2.41%","SOS2 1.20%"],"paddingInner":0.12,"paddingOuter":0.06},
"axis":{"orient":"right","offset":-24.4,"title":null,"ticks":false,"domain":true,"domainColor":"#777","domainWidth":0.6,"labelFontSize":3.6,"labelPadding":2,"labelColor":"#222","labelLimit":60}},
"x":{"field":"v","type":"quantitative","stack":"zero","scale":{"domain":[-3.75,15],"reverse":true},"axis":{"values":[0,5,10,15],"labelAngle":-90,"labelBaseline":"top","title":"Number of mutations","titleFontSize":8.5,"titleFontWeight":"normal","titleColor":"#222","titlePadding":1,"labelFontSize":7,"labelColor":"#222","labelPadding":1,"tickSize":2,"domain":false,"tickColor":"#333","grid":false}},
"fill":{"field":"study","type":"nominal","scale":{"domain":["s1","s2","s3","s4"],"range":["#000000","#7f7f7f","#c8c8c8","#ffffff"]}},
"order":{"field":"study","type":"nominal"}}},
{"mark":{"type":"rule","color":"#333","strokeWidth":1},"encoding":{"x":{"datum":0,"type":"quantitative","scale":{"domain":[-3.75,15],"reverse":true}},"x2":{"datum":15},"y":{"value":"height"}}}
]},
{"width":{"step":4.2},"height":{"step":4},"view":{"stroke":"#d42a2a","strokeWidth":2},"data":{"name":"muts"},
"transform":[{"filter":"datum.s == 'o' && datum.b == 'B'"},{"lookup":"g","from":{"data":{"name":"genes"},"key":"g","fields":["k"]}}],
"mark":{"type":"rect"},
"encoding":{
"x":{"field":"c","type":"ordinal","scale":{"domain":[0,1,2,3,4,5,6,7,8,9,10],"paddingInner":0,"paddingOuter":0},"axis":{"grid":true,"bandPosition":0,"labels":false,"ticks":false,"domain":false,"title":null,"gridColor":"#c6c6c6","gridWidth":0.6,"minExtent":0,"maxExtent":0}},
"y":{"field":"k","type":"ordinal","scale":{"domain":["EGFR 4.82%","ERBB2 9.64%","ERBB3 6.02%","ERBB4 2.41%","PIK3CA 8.43%","MAP2K1 9.64%","MAPK1 1.20%","SMAD2 1.20%","SMAD4 1.20%","NRAS 2.41%","MAP2K4 2.41%","SOS2 1.20%"],"paddingInner":0,"paddingOuter":0},"axis":{"grid":true,"bandPosition":0,"labels":false,"ticks":false,"domain":false,"title":null,"gridColor":"#c6c6c6","gridWidth":0.6,"minExtent":0,"maxExtent":0}},
"color":{"field":"t","type":"nominal","scale":{"domain":["synonymous","missense","Nonsense","frameshift","splice"],"range":["#7b96db","#3b7a1f","#ffff33","#a393c6","#d42a2a"]},
"legend":{"orient":"none","legendX":127,"legendY":371,"direction":"horizontal","title":null,"symbolType":"square","symbolSize":64,"symbolStrokeWidth":0,"labelFontSize":8,"labelColor":"#222","columnPadding":24,"labelOffset":5}}}},
{"width":{"step":4.2},"height":{"step":4},"view":{"stroke":"#6b86d6","strokeWidth":2},"data":{"name":"muts"},
"transform":[{"filter":"datum.s == 'l' && datum.b == 'B'"},{"lookup":"g","from":{"data":{"name":"genes"},"key":"g","fields":["k"]}}],
"mark":{"type":"rect"},
"encoding":{
"x":{"field":"c","type":"ordinal","scale":{"domain":[0,1,2,3,4,5,6,7,8,9,10,11,12,13,14,15,16,17,18,19,20,21,22,23,24,25,26,27,28,29,30,31],"paddingInner":0,"paddingOuter":0},"axis":{"grid":true,"bandPosition":0,"labels":false,"ticks":false,"domain":false,"title":null,"gridColor":"#c6c6c6","gridWidth":0.6,"minExtent":0,"maxExtent":0}},
"y":{"field":"k","type":"ordinal","scale":{"domain":["EGFR 4.82%","ERBB2 9.64%","ERBB3 6.02%","ERBB4 2.41%","PIK3CA 8.43%","MAP2K1 9.64%","MAPK1 1.20%","SMAD2 1.20%","SMAD4 1.20%","NRAS 2.41%","MAP2K4 2.41%","SOS2 1.20%"],"paddingInner":0,"paddingOuter":0},"axis":{"grid":true,"bandPosition":0,"labels":false,"ticks":false,"domain":false,"title":null,"gridColor":"#c6c6c6","gridWidth":0.6,"minExtent":0,"maxExtent":0}},
"color":{"field":"t","type":"nominal","scale":{"domain":["synonymous","missense","Nonsense","frameshift","splice"],"range":["#7b96db","#3b7a1f","#ffff33","#a393c6","#d42a2a"]}}}},
{"width":{"step":4.2},"height":{"step":4},"view":{"stroke":"#4a2f6e","strokeWidth":2},"data":{"name":"muts"},
"transform":[{"filter":"datum.s == 'j' && datum.b == 'B'"},{"lookup":"g","from":{"data":{"name":"genes"},"key":"g","fields":["k"]}}],
"mark":{"type":"rect"},
"encoding":{
"x":{"field":"c","type":"ordinal","scale":{"domain":[0,1,2,3,4,5,6,7],"paddingInner":0,"paddingOuter":0},"axis":{"grid":true,"bandPosition":0,"labels":false,"ticks":false,"domain":false,"title":null,"gridColor":"#c6c6c6","gridWidth":0.6,"minExtent":0,"maxExtent":0}},
"y":{"field":"k","type":"ordinal","scale":{"domain":["EGFR 4.82%","ERBB2 9.64%","ERBB3 6.02%","ERBB4 2.41%","PIK3CA 8.43%","MAP2K1 9.64%","MAPK1 1.20%","SMAD2 1.20%","SMAD4 1.20%","NRAS 2.41%","MAP2K4 2.41%","SOS2 1.20%"],"paddingInner":0,"paddingOuter":0},"axis":{"grid":true,"bandPosition":0,"labels":false,"ticks":false,"domain":false,"title":null,"gridColor":"#c6c6c6","gridWidth":0.6,"minExtent":0,"maxExtent":0}},
"color":{"field":"t","type":"nominal","scale":{"domain":["synonymous","missense","Nonsense","frameshift","splice"],"range":["#7b96db","#3b7a1f","#ffff33","#a393c6","#d42a2a"]}}}},
{"width":{"step":4.2},"height":{"step":4},"view":{"stroke":"#8a4a1c","strokeWidth":2},"data":{"name":"muts"},
"transform":[{"filter":"datum.s == 'n' && datum.b == 'B'"},{"lookup":"g","from":{"data":{"name":"genes"},"key":"g","fields":["k"]}}],
"mark":{"type":"rect"},
"encoding":{
"x":{"field":"c","type":"ordinal","scale":{"domain":[0,1,2,3,4,5,6,7,8,9,10,11,12,13,14,15,16,17,18,19,20,21,22,23,24,25,26,27],"paddingInner":0,"paddingOuter":0},"axis":{"grid":true,"bandPosition":0,"labels":false,"ticks":false,"domain":false,"title":null,"gridColor":"#c6c6c6","gridWidth":0.6,"minExtent":0,"maxExtent":0}},
"y":{"field":"k","type":"ordinal","scale":{"domain":["EGFR 4.82%","ERBB2 9.64%","ERBB3 6.02%","ERBB4 2.41%","PIK3CA 8.43%","MAP2K1 9.64%","MAPK1 1.20%","SMAD2 1.20%","SMAD4 1.20%","NRAS 2.41%","MAP2K4 2.41%","SOS2 1.20%"],"paddingInner":0,"paddingOuter":0},"axis":{"grid":true,"bandPosition":0,"labels":false,"ticks":false,"domain":false,"title":null,"gridColor":"#c6c6c6","gridWidth":0.6,"minExtent":0,"maxExtent":0}},
"color":{"field":"t","type":"nominal","scale":{"domain":["synonymous","missense","Nonsense","frameshift","splice"],"range":["#7b96db","#3b7a1f","#ffff33","#a393c6","#d42a2a"]}}}},
{"width":65,"height":{"step":4},"data":{"name":"groups"},"transform":[{"filter":"datum.b == 'B'"}],
"layer":[
{"mark":{"type":"rule","color":"#333","strokeWidth":0.8},"encoding":{"x":{"datum":0.27,"type":"quantitative","scale":{"domain":[0,1]},"axis":null},
"y":{"field":"first","type":"ordinal","scale":{"type":"band","domain":["EGFR 4.82%","ERBB2 9.64%","ERBB3 6.02%","ERBB4 2.41%","PIK3CA 8.43%","MAP2K1 9.64%","MAPK1 1.20%","SMAD2 1.20%","SMAD4 1.20%","NRAS 2.41%","MAP2K4 2.41%","SOS2 1.20%"],"paddingInner":0,"paddingOuter":0},
"axis":{"orient":"left","offset":-15,"title":null,"ticks":false,"domain":false,"labelFontSize":3.4,"labelPadding":2,"labelColor":"#333","labelExpr":"split(datum.label,' ')[0]"}},
"y2":{"field":"last"}}},
{"transform":[{"fold":["first","last"],"as":["end","key"]}],"mark":{"type":"rule","color":"#333","strokeWidth":0.8},"encoding":{"x":{"datum":0.23,"type":"quantitative","scale":{"domain":[0,1]},"axis":null},"x2":{"datum":0.27},
"y":{"field":"key","type":"ordinal","scale":{"type":"band","domain":["EGFR 4.82%","ERBB2 9.64%","ERBB3 6.02%","ERBB4 2.41%","PIK3CA 8.43%","MAP2K1 9.64%","MAPK1 1.20%","SMAD2 1.20%","SMAD4 1.20%","NRAS 2.41%","MAP2K4 2.41%","SOS2 1.20%"],"paddingInner":0,"paddingOuter":0}}}},
{"mark":{"type":"text","fontSize":7.5,"lineBreak":"\n","lineHeight":9,"color":"#222","align":"center","baseline":"middle"},"encoding":{"x":{"datum":0.63,"type":"quantitative","scale":{"domain":[0,1]},"axis":null},
"y":{"field":"mid","type":"ordinal","scale":{"type":"band","domain":["EGFR 4.82%","ERBB2 9.64%","ERBB3 6.02%","ERBB4 2.41%","PIK3CA 8.43%","MAP2K1 9.64%","MAPK1 1.20%","SMAD2 1.20%","SMAD4 1.20%","NRAS 2.41%","MAP2K4 2.41%","SOS2 1.20%"],"paddingInner":0,"paddingOuter":0}},
"text":{"field":"label"}}}
]}
]
},
{
"bounds":"flush",
"spacing":26.3,
"resolve":{"scale":{"fill":"independent"},"legend":{"fill":"independent"}},
"vconcat":[
{"width":1,"height":1,"data":{"values":[]},"mark":{"type":"point","opacity":0}},
{
"vconcat":[
{"title":{"text":"B","anchor":"start","fontSize":14,"fontWeight":"bold","color":"#000","offset":0,"dx":-12},
"resolve":{"scale":{"fill":"independent"},"legend":{"fill":"independent"}},
"vconcat":[
{"width":134,"height":88,
"title":{"text":"Epigenetic pathway (63.3%)","fontSize":7.5,"fontWeight":"bold","offset":3,"color":"#111"},
"data":{"name":"path"},
"transform":[{"filter":"datum.p == 'B'"}],
"encoding":{"x":{"field":"group","type":"nominal","sort":["All samples","Our samples","Li M, et al.","Jiao Y, et al.","Nakamura H, et al."],"scale":{"paddingInner":0.32,"paddingOuter":0.12},
"axis":{"title":null,"labelAngle":-24,"labelAlign":"right","labelBaseline":"top","labelFontSize":7.5,"labelColor":"#222","domainColor":"#000","domainWidth":1.2,"tickColor":"#000","tickSize":3,"labelPadding":1}}},
"layer":[
{"mark":{"type":"bar","stroke":"#111","strokeWidth":1.1},
"encoding":{"y":{"field":"pct","type":"quantitative","stack":"zero","scale":{"domain":[0,100]},
"axis":{"values":[0,20,40,60,80,100],"title":"Patients carrying mutations (%)","titleFontSize":7.5,"titleFontWeight":"normal","titleColor":"#222","titlePadding":3,"labelFontSize":8,"labelColor":"#222","domainColor":"#000","domainWidth":1.2,"tickColor":"#000","tickSize":3,"labelPadding":1,"grid":false}},
"fill":{"field":"status","type":"nominal","scale":{"domain":["Absent","Present"],"range":["#e4e4e4","#4b4b4b"]},
"legend":{"orient":"top","direction":"horizontal","title":null,"symbolType":"square","symbolSize":80,"symbolStrokeColor":"#000","symbolStrokeWidth":0.8,"labelFontSize":8,"labelColor":"#222","columnPadding":6,"offset":17,"labelExpr":"datum.label == 'Absent' ? 'Absent  /' : datum.label"}},
"order":{"field":"status","sort":"descending"}}},
{"transform":[{"filter":"datum.status == 'Present'"}],"mark":{"type":"text","fontSize":8.5,"baseline":"bottom","dy":-4,"color":"#222"},
"encoding":{"y":{"datum":100,"type":"quantitative","scale":{"domain":[0,100]}},"text":{"field":"frac"}}}
]}
]},
{"title":{"text":"C","anchor":"start","fontSize":14,"fontWeight":"bold","color":"#000","offset":22,"dx":-12},
"resolve":{"scale":{"fill":"independent"},"legend":{"fill":"independent"}},
"vconcat":[
{"width":134,"height":88,
"title":{"text":"ErbB pathway (36.7%)","fontSize":7.5,"fontWeight":"bold","offset":3,"color":"#111"},
"data":{"name":"path"},
"transform":[{"filter":"datum.p == 'C'"}],
"encoding":{"x":{"field":"group","type":"nominal","sort":["All samples","Our samples","Li M, et al.","Jiao Y, et al.","Nakamura H, et al."],"scale":{"paddingInner":0.32,"paddingOuter":0.12},
"axis":{"title":null,"labelAngle":-24,"labelAlign":"right","labelBaseline":"top","labelFontSize":7.5,"labelColor":"#222","domainColor":"#000","domainWidth":1.2,"tickColor":"#000","tickSize":3,"labelPadding":1}}},
"layer":[
{"mark":{"type":"bar","stroke":"#111","strokeWidth":1.1},
"encoding":{"y":{"field":"pct","type":"quantitative","stack":"zero","scale":{"domain":[0,100]},
"axis":{"values":[0,20,40,60,80,100],"title":"Patients carrying mutations (%)","titleFontSize":7.5,"titleFontWeight":"normal","titleColor":"#222","titlePadding":3,"labelFontSize":8,"labelColor":"#222","domainColor":"#000","domainWidth":1.2,"tickColor":"#000","tickSize":3,"labelPadding":1,"grid":false}},
"fill":{"field":"status","type":"nominal","scale":{"domain":["Absent","Present"],"range":["#e4e4e4","#4b4b4b"]},
"legend":{"orient":"top","direction":"horizontal","title":null,"symbolType":"square","symbolSize":80,"symbolStrokeColor":"#000","symbolStrokeWidth":0.8,"labelFontSize":8,"labelColor":"#222","columnPadding":6,"offset":17,"labelExpr":"datum.label == 'Absent' ? 'Absent  /' : datum.label"}},
"order":{"field":"status","sort":"descending"}}},
{"transform":[{"filter":"datum.status == 'Present'"}],"mark":{"type":"text","fontSize":8.5,"baseline":"bottom","dy":-4,"color":"#222"},
"encoding":{"y":{"datum":100,"type":"quantitative","scale":{"domain":[0,100]}},"text":{"field":"frac"}}}
]}
]}
],
"spacing":24,
"resolve":{"scale":{"fill":"independent"},"legend":{"fill":"independent"}}
}
]
}
]
}
